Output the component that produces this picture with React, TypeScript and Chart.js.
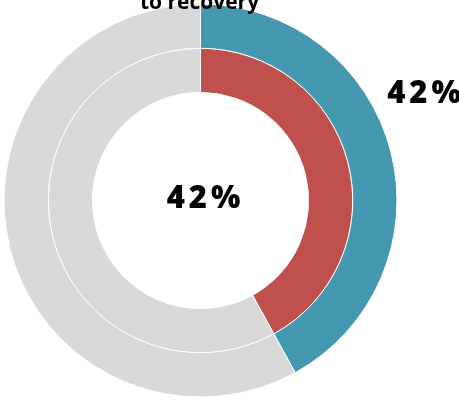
import React, { useEffect, useRef } from "react";
import { Chart, registerables } from "chart.js";

Chart.register(...registerables);

const categories = ["Progress", "Remaining"];
const outerValues = [42, 58];
const innerValues = [42, 58];
const outerColors = ["#4499b1", "#d9d9d9"];
const innerColors = ["#c0504d", "#d9d9d9"];
const titleText = "to recovery";
const centerLabel = "42%";
const sideLabel = "42%";

const textPlugin = {
  id: "textPlugin",
  afterDraw(chart: any) {
    const ctx = chart.ctx;
    const meta = chart.getDatasetMeta(0);
    const arc = meta.data[0];
    if (!arc) return;
    const cx = arc.x;
    const cy = arc.y;
    const R = arc.outerRadius;
    ctx.save();
    ctx.fillStyle = "#000";
    // title (cropped at top)
    ctx.font = "bold 21px 'Open Sans'";
    ctx.textAlign = "center";
    ctx.textBaseline = "alphabetic";
    (ctx as any).letterSpacing = "0px";
    ctx.fillText(titleText, cx - 1, 9);
    // labels
    ctx.font = "800 31px 'Open Sans'";
    (ctx as any).letterSpacing = "4px";
    ctx.textBaseline = "middle";
    ctx.textAlign = "center";
    ctx.fillText(centerLabel, cx + 5, cy - 1);
    ctx.textAlign = "left";
    ctx.fillText(sideLabel, cx + R * 0.95, cy - R * 0.54);
    ctx.restore();
  },
};

export default function App() {
  const ref = useRef<HTMLCanvasElement>(null);
  useEffect(() => {
    document.body.style.margin = "0";
    const chart = new Chart(ref.current!, {
      type: "doughnut",
      data: {
        labels: categories,
        datasets: [
          {
            data: outerValues,
            backgroundColor: outerColors,
            borderColor: "#ffffff",
            borderWidth: 1,
            hoverOffset: 0,
          },
          {
            data: innerValues,
            backgroundColor: innerColors,
            borderColor: "#ffffff",
            borderWidth: 1,
            hoverOffset: 0,
          },
        ],
      },
      options: {
        animation: false,
        responsive: false,
        maintainAspectRatio: false,
        cutout: "55%",
        layout: { padding: { left: 3.5, top: 3.5, right: 61.5, bottom: 5.5 } },
        plugins: {
          legend: { display: false },
          title: { display: false },
          tooltip: { enabled: false },
        },
        events: [],
      },
      plugins: [textPlugin],
    });
    return () => chart.destroy();
  }, []);
  return (
    <div style={{ position: "fixed", left: 0, top: 0, width: 459, height: 403 }}>
      <canvas ref={ref} width={459} height={403} style={{ width: 459, height: 403 }} />
    </div>
  );
}
